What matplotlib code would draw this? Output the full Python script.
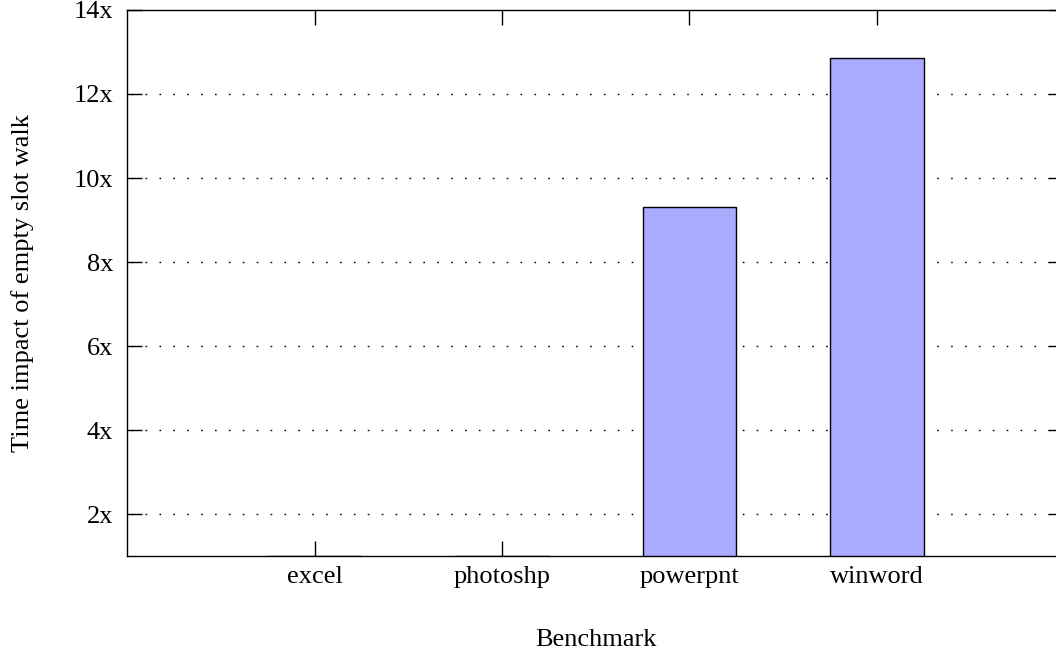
#!/usr/bin/env python3
"""Time impact of empty slot walk, per benchmark (gnuplot-style bar chart)."""
import matplotlib
matplotlib.use("Agg")
import matplotlib.pyplot as plt
from matplotlib.ticker import FuncFormatter

# --- data -----------------------------------------------------------------
benchmarks = ["excel", "photoshp", "powerpnt", "winword"]
impact = [1.01, 1.01, 9.31, 12.86]
y_ticks = [2, 4, 6, 8, 10, 12, 14]

# --- style ----------------------------------------------------------------
plt.rcParams["font.family"] = ["Liberation Serif", "DejaVu Serif"]
plt.rcParams["font.size"] = 19
BAR_FILL = "#aaaaff"

fig = plt.figure(figsize=(10.56, 6.53), dpi=100)
ax = fig.add_axes([0.1203, 0.1485, 1.008 - 0.1203, 0.9847 - 0.1485])

pos = list(range(1, len(benchmarks) + 1))
ax.bar(pos, [v - 1 for v in impact], bottom=1, width=0.5,
       color=BAR_FILL, edgecolor="black", linewidth=1.0, zorder=3)

ax.set_xlim(0, 5)
ax.set_ylim(1, 14)
ax.set_xticks(pos)
ax.set_xticklabels(benchmarks)
ax.set_yticks(y_ticks)
ax.yaxis.set_major_formatter(FuncFormatter(lambda v, _: f"{int(v)}x"))

# dotted horizontal grid, gnuplot-like
for t in y_ticks[:-1]:
    ax.axhline(t, color="black", linestyle=(7.0, (1.2, 8.8)), linewidth=1.0, zorder=1)

ax.tick_params(direction="in", length=10.5, width=1, top=True, right=True,
               labelsize=19)
ax.tick_params(axis="x", pad=7)
ax.tick_params(axis="y", pad=10)
for s in ax.spines.values():
    s.set_linewidth(1.0)

ax.set_xlabel("Benchmark", va="center")
ax.set_ylabel("Time impact of empty slot walk", va="center")
ax.xaxis.set_label_coords(0.5, -0.1538)
ax.yaxis.set_label_coords(-0.112, 0.5)

fig.savefig("out.png", dpi=100, facecolor="white")
